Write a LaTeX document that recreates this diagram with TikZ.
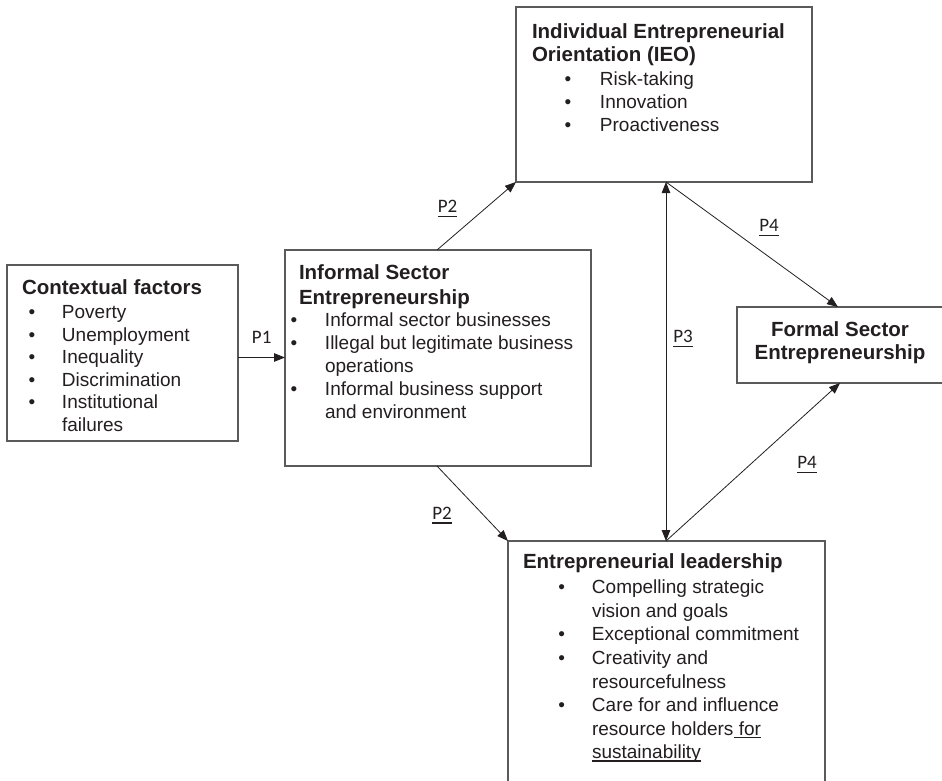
\documentclass[tikz,border=0pt]{standalone}
\usepackage{fontspec}
\setmainfont{Liberation Sans}
\newfontfamily\calib{Carlito}
\usetikzlibrary{arrows.meta,calc}
\definecolor{txt}{HTML}{231F20}
\definecolor{edge}{HTML}{5A5A5A}
\newcommand\uln[1]{\setbox0\hbox{#1}\rlap{\rule[-2.8pt]{\wd0}{1.3pt}}\box0}
\newcommand\ulp[1]{\setbox0\hbox{#1}\rlap{\rule[-4.6pt]{\wd0}{1.3pt}}\box0}
\newcommand\blist[2]{\begin{tabular}[t]{@{}p{#1}@{}l@{}}#2\end{tabular}}
\newcommand\bu{\textbullet}
\begin{document}
\begin{tikzpicture}[x=1pt,y=-1pt,
  box/.style={draw=edge,line width=1.3pt,rectangle,inner sep=0pt,outer sep=0pt,anchor=north west},
  ttl/.style={text=txt,inner sep=0pt,outer sep=0pt,anchor=base west},
  lst/.style={text=txt,inner sep=0pt,outer sep=0pt,anchor=base west},
  plab/.style={font=\calib\fontsize{19}{22}\selectfont,text=txt,inner sep=0pt,anchor=base},
  tip/.tip={Triangle[length=11pt,width=8.5pt]},
  arr/.style={draw=txt,line width=0.8pt,-tip},
  dbl/.style={draw=txt,line width=0.8pt,tip-tip}
]
\useasboundingbox (0,0) rectangle (942,780);
\clip (0,0) rectangle (942,780);
\fill[white] (0,0) rectangle (942,780);

% boxes
\node[box,minimum width=231pt,minimum height=176pt] (ctx) at (7,265) {};
\node[box,minimum width=306pt,minimum height=216pt] (inf) at (285,250) {};
\node[box,minimum width=296pt,minimum height=175pt] (ieo) at (516,7) {};
\node[box,minimum width=230pt,minimum height=76pt] (frm) at (737,307) {};
\node[box,minimum width=317pt,minimum height=260pt] (lead) at (508,541) {};

% contextual factors
\node[ttl,font=\fontsize{20.5}{24}\selectfont\bfseries] (ctxT) at (22,294.5) {Contextual factors};
\node[lst,font=\fontsize{19}{22.5}\selectfont] (ctxL) at (28.7,318.6)
  {\blist{33.3pt}{\bu & Poverty\\ \bu & Unemployment\\ \bu & Inequality\\ \bu & Discrimination\\ \bu & Institutional\\ & failures}};

% informal sector
\node[ttl,font=\fontsize{20.5}{24.3}\selectfont\bfseries] (infT) at (299,279.7)
  {\begin{tabular}[t]{@{}l@{}}Informal Sector\\ Entrepreneurship\end{tabular}};
\node[lst,font=\fontsize{19}{23}\selectfont] (infL) at (290.7,326.3)
  {\blist{34.3pt}{\bu & Informal sector businesses\\ \bu & Illegal but legitimate business\\ & operations\\ \bu & Informal business support\\ & and environment}};

% IEO
\node[ttl,font=\fontsize{20.5}{22.7}\selectfont\bfseries] (ieoT) at (532,38.7)
  {\begin{tabular}[t]{@{}l@{}}Individual Entrepreneurial\\ Orientation (IEO)\end{tabular}};
\node[lst,font=\fontsize{19}{23}\selectfont] (ieoL) at (564.7,85)
  {\blist{35.3pt}{\bu & Risk-taking\\ \bu & Innovation\\ \bu & Proactiveness}};

% formal sector
\node[text=txt,inner sep=0pt,anchor=base,font=\fontsize{20.5}{23.3}\selectfont\bfseries] (frmT) at (840,336.4)
  {\begin{tabular}[t]{@{}c@{}}Formal Sector\\ Entrepreneurship\end{tabular}};

% leadership
\node[ttl,font=\fontsize{20.5}{24}\selectfont\bfseries] (leadT) at (523,568) {Entrepreneurial leadership};
\node[lst,font=\fontsize{19}{23.6}\selectfont] (leadL) at (558.4,593.6)
  {\blist{33.6pt}{\bu & Compelling strategic\\ & vision and goals\\ \bu & Exceptional commitment\\ \bu & Creativity and\\ & resourcefulness\\ \bu & Care for and influence\\ & resource holders\uln{ for}\\ & \uln{sustainability}}};

% connectors
\coordinate (a1) at (0,357.5);
\draw[arr] (ctx.east |- a1) -- (inf.west |- a1);
\draw[arr] ($(inf.north west)+(152,0)$) -- (ieo.south west);
\draw[arr] ($(inf.south west)+(152,0)$) -- (lead.north west);
\coordinate (ieoP) at ($(ieo.south west)+(150,0)$);
\coordinate (leadP) at ($(lead.north west)+(158,0)$);
\draw[dbl] (ieoP) -- (leadP);
\draw[arr] (ieoP) -- ($(frm.north west)+(101,0)$);
\draw[arr] (leadP) -- ($(frm.south west)+(103,0)$);

% labels
\node[plab] (p1) at (261.7,343.3) {P1};
\node[plab] (p2a) at (447.5,212.7) {\ulp{P2}};
\node[plab] (p2b) at (442,519) {\ulp{P2}};
\node[plab] (p3) at (683,342.7) {\ulp{P3}};
\node[plab] (p4a) at (769,231.7) {\ulp{P4}};
\node[plab] (p4b) at (807,468.3) {\ulp{P4}};
\end{tikzpicture}
\end{document}
